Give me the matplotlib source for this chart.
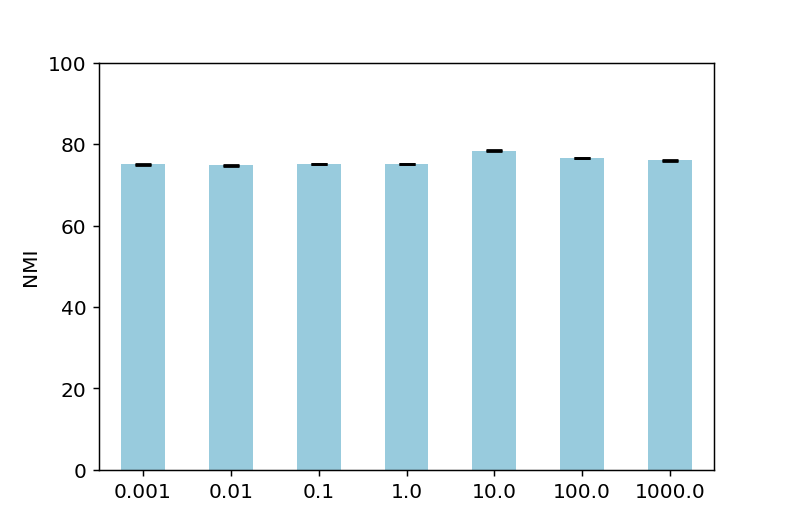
import matplotlib
matplotlib.use("Agg")
import matplotlib.pyplot as plt
import numpy as np

categories = ["0.001", "0.01", "0.1", "1.0", "10.0", "100.0", "1000.0"]
nmi = [75.0, 74.8, 75.1, 75.1, 78.4, 76.6, 76.0]
err = [0.15, 0.1, 0.1, 0.1, 0.15, 0.1, 0.15]

plt.rcParams["font.size"] = 11
fig, ax = plt.subplots(figsize=(6, 4), dpi=132.2)
x = np.arange(len(categories))
ax.bar(x, nmi, width=0.5, color="#98cbdd", yerr=err,
       error_kw=dict(ecolor="black", capsize=4.5, capthick=1.5, elinewidth=1))
ax.set_xlim(-0.5, len(categories) - 0.5)
ax.set_xticks(x)
ax.set_xticklabels(categories)
ax.set_ylim(0, 100)
ax.set_ylabel("NMI")
fig.savefig("out.png", dpi=132.2)
